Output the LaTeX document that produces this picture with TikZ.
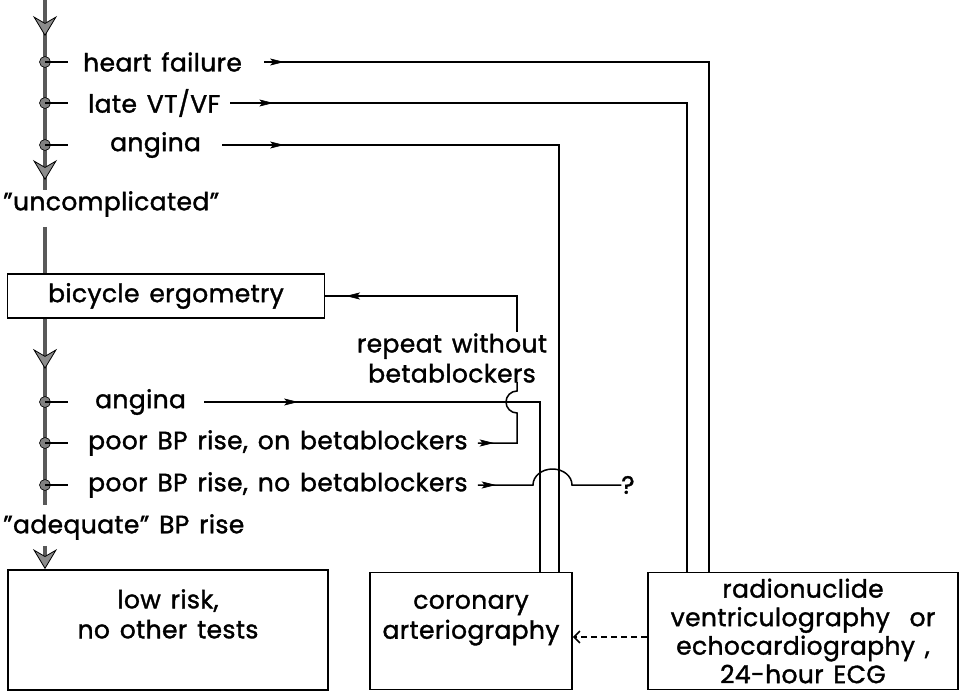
\documentclass[tikz,border=0pt]{standalone}
\usepackage{fontspec}
\setmainfont{Poppins}[FakeBold=1.4, WordSpace=1.4, LetterSpace=1.5]
\usetikzlibrary{arrows.meta,decorations.markings,positioning}

\tikzset{
  bigtip/.tip={Stealth[length=20pt,width=24pt,inset=7pt,line width=0.8pt,color=black,fill=black!45]},
  smalltip/.tip={Stealth[length=14pt,width=7pt,inset=3pt,line width=0.6pt]},
  flow/.style={draw=black!65, line width=4pt},
  bigmark/.style={postaction={decorate, decoration={markings, mark=at position #1 with {\arrow{bigtip}}}}},
  tipat/.style={postaction={decorate, decoration={markings, mark=at position #1 with {\arrow{smalltip}}}}},
  link/.style={draw, line width=1.5pt},
  dot/.style={circle, draw=black, line width=0.6pt, fill=black!50, minimum size=11pt, inner sep=0pt},
  lbl/.style={inner sep=0pt, font=\fontsize{25}{30}\selectfont},
  box/.style={draw, line width=1.8pt, inner sep=0pt},
}

\begin{document}
\begin{tikzpicture}[x=1pt, y=-1pt]
\useasboundingbox (0,0) rectangle (962,696);

% main line, first part
\coordinate (in0) at (45,0);
\coordinate (out0) at (45,190);
\draw[flow, bigmark=36pt, bigmark=180pt] (in0) -- (out0);
\node[dot] (c1) at (45,62) {};
\node[dot] (c2) at (45,103) {};
\node[dot] (c3) at (45,145) {};
\foreach \c in {c1,c2,c3} \draw[link] (\c.center) -- ++(23,0);
\node[lbl, anchor=west] (hf) at (83,62) {heart failure};
\node[lbl, anchor=west] (vt) at (88,103) {late VT/VF};
\node[lbl, anchor=west] (an1) at (110,145) {angina};
\node[lbl, anchor=west] (uncomp) at (3,204) {”uncomplicated”};

% exercise test
\node[box, minimum width=317pt, minimum height=44pt, font=\fontsize{25}{30}\selectfont] (bike) at (166,296) {bicycle ergometry};
\draw[flow] ([yshift=-10pt]uncomp.south -| in0) -- (bike.north -| in0);
\coordinate (out1) at (45,505);
\draw[flow, bigmark=50pt] (bike.south -| in0) -- (out1);
\node[dot] (e1) at (45,402) {};
\node[dot] (e2) at (45,443) {};
\node[dot] (e3) at (45,485) {};
\foreach \c in {e1,e2,e3} \draw[link] (\c.center) -- ++(23,0);
\node[lbl, anchor=west] (an2) at (95,402) {angina};
\node[lbl, anchor=west] (onbb) at (88,443) {poor BP rise, on betablockers};
\node[lbl, anchor=west] (nobb) at (88,485) {poor BP rise, no betablockers};
\node[lbl, anchor=west] (adeq) at (3,527) {”adequate” BP rise};
\node[lbl, align=center] (rep) at (452,358) {repeat without\\betablockers};
\node[lbl] (q) at (628,485) {?};

% outcome boxes
\node[box, minimum width=320pt, minimum height=120pt] (low) at (168,630) {};
\node[lbl, align=center, below=20pt of low.north] (lowtxt) {low risk,\\no other tests};
\node[box, minimum width=202pt, minimum height=117pt] (coro) at (471,631) {};
\node[lbl, align=center, below=23pt of coro.north] (corotxt) {coronary\\arteriography};
\node[box, minimum width=310pt, minimum height=117pt] (radio) at (803,631) {};
\node[lbl, align=center, font=\fontsize{25}{28.5}\selectfont] (radiotxt) at (radio.center) {radionuclide\\ventriculography\ \ or\\echocardiography ,\\24-hour ECG};

\draw[flow, -bigtip] ([yshift=-6pt]adeq.south -| in0) -- (low.north -| in0);

% entry points on the box tops
\path (coro.north west) ++(171,0) coordinate (k1) ++(19,0) coordinate (k2);
\path (radio.north west) ++(40,0) coordinate (r1) ++(22,0) coordinate (r2);
\coordinate (rb) at (517,382);
\coordinate (rt) at (517,332);
\coordinate (hop) at (533,485);

% referrals
\draw[link, tipat=20pt] ([xshift=22pt]hf.east) -| (r2);
\draw[link, tipat=43pt] ([xshift=10pt]vt.east) -| (r1);
\draw[link, tipat=62pt] ([xshift=21pt]an1.east) -| (k2);
\draw[link, tipat=94pt] ([xshift=18pt]an2.east) -| (k1);
\draw[link, tipat=16pt] ([xshift=10pt]onbb.east) -- (onbb.east -| rb) -- ++(0,-30)
  arc[start angle=270, end angle=90, radius=11pt] -- (rb);
\draw[link, tipat=207pt] (rt) |- (bike.east);
\draw[link, tipat=18pt] ([xshift=10pt]nobb.east) -- (hop)
  arc[start angle=180, end angle=0, x radius=19.5pt, y radius=16pt] -- (q.west);
\draw[link, dash pattern=on 6pt off 4pt, -{Straight Barb[length=6pt,width=12pt]}] ([yshift=-6pt]radio.west) -- ([yshift=-6pt]coro.east);
\end{tikzpicture}
\end{document}
